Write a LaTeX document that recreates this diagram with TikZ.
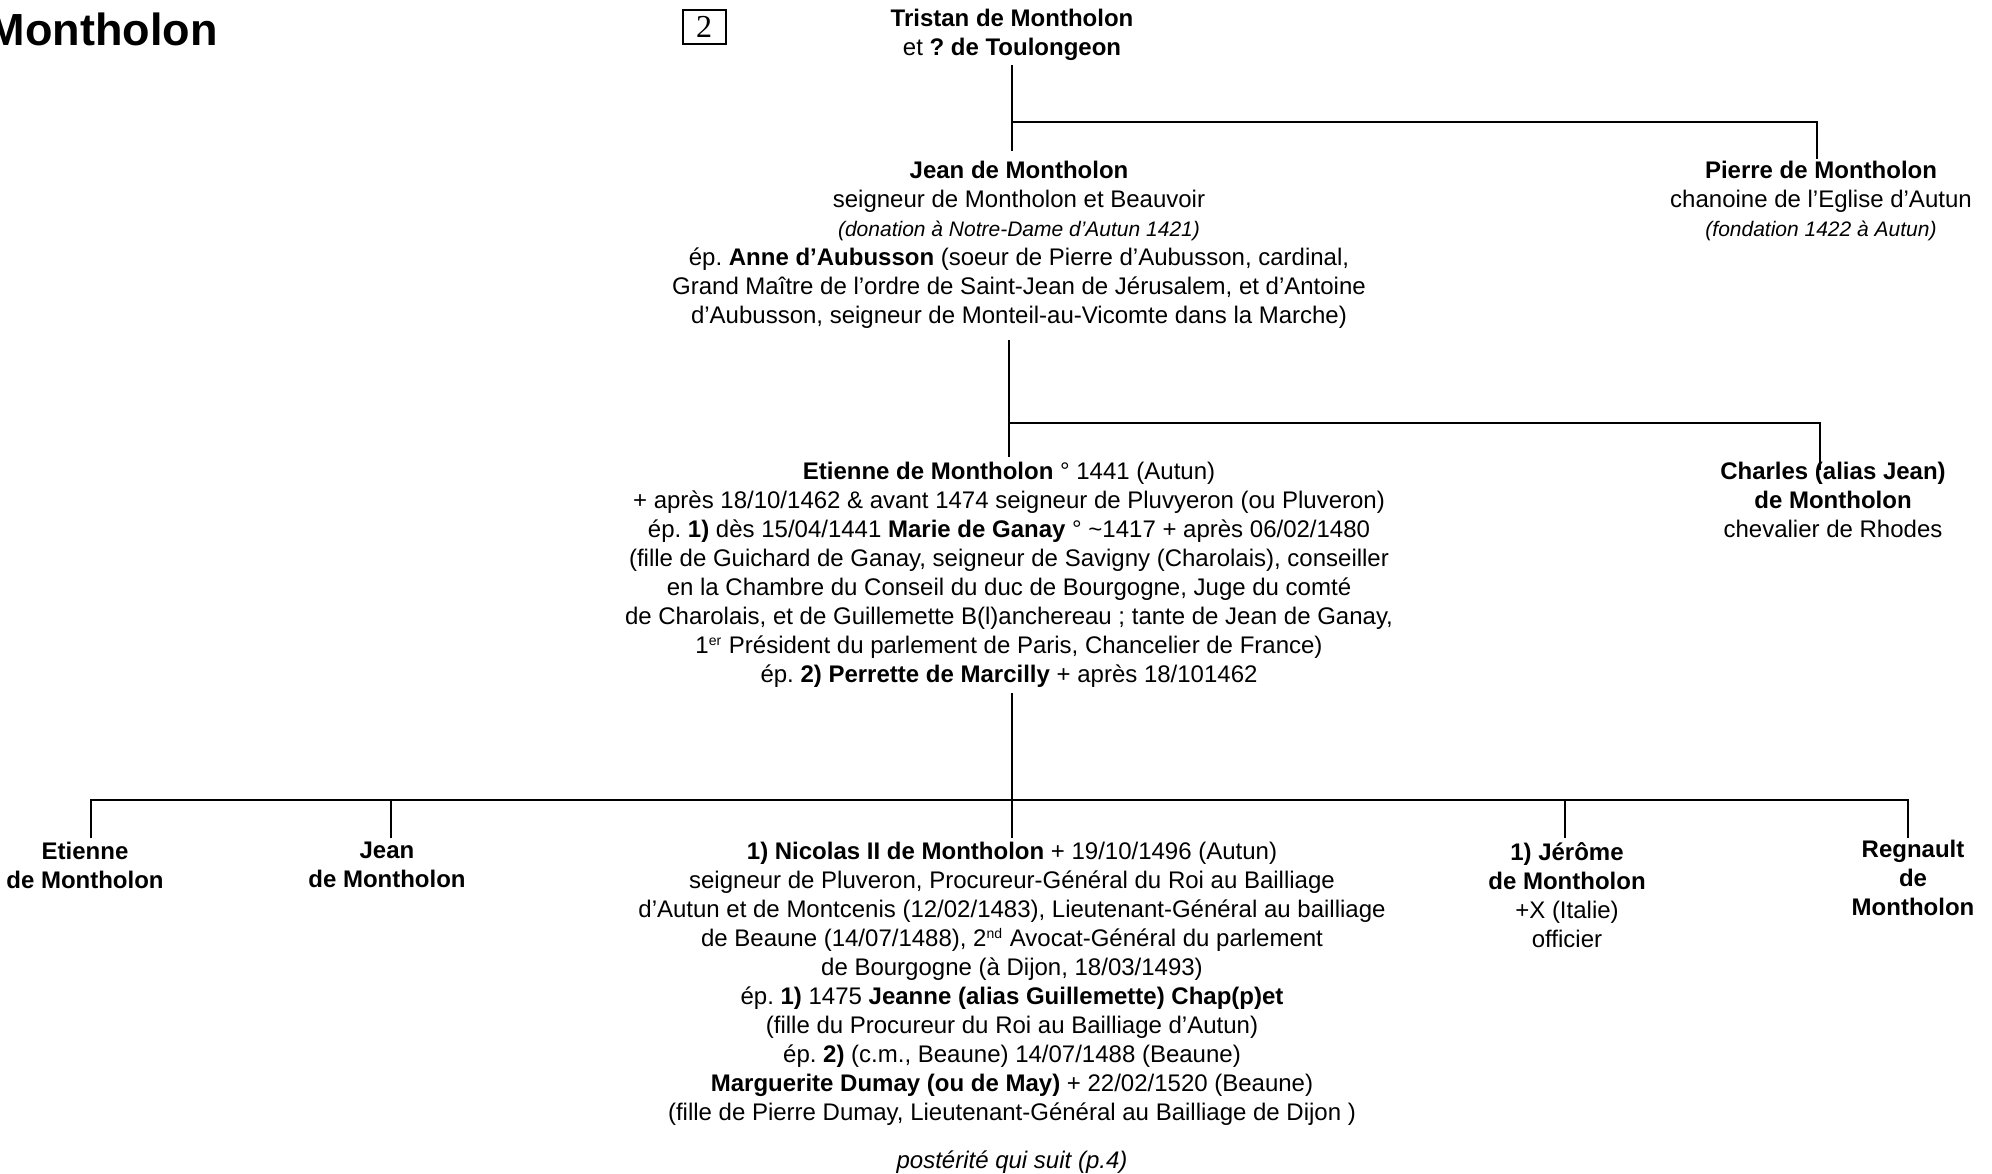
\documentclass[tikz,border=0pt]{standalone}
\usepackage{fontspec}
\setmainfont{Liberation Sans}
\newfontfamily\boxfont{Liberation Serif}
\usetikzlibrary{calc}
\frenchspacing
\tikzset{
  person/.style={anchor=north, align=center, inner sep=0pt, font=\fontsize{12pt}{14.5pt}\selectfont},
  link/.style={line width=1.3pt},
  numbox/.style={draw, line width=1pt, inner sep=0pt, minimum width=21.5pt, minimum height=17pt, font=\boxfont\fontsize{16pt}{17pt}\selectfont},
}
\newcommand\noteit[1]{{\fontsize{10.5pt}{14.5pt}\selectfont\itshape #1}}
\begin{document}
\frenchspacing
\begin{tikzpicture}[x=0.5pt,y=-0.5pt]
\fill[white] (0,0) rectangle (1992,1173);
\useasboundingbox (0,0) rectangle (1992,1173);

% title and page number
\node[anchor=base east, inner sep=0pt, font=\fontsize{22.5pt}{26pt}\selectfont\bfseries] (title) at (218,45) {Montholon};
\node[numbox] (num) at (704,27) {2};

% generation 1
\node[person] (Tr) at (1012,9) {\textbf{Tristan de Montholon}\\ et \textbf{? de Toulongeon}};

% generation 2
\node[person] (J) at (1019,161) {\textbf{Jean de Montholon}\\
  seigneur de Montholon et Beauvoir\\
  \noteit{(donation à Notre-Dame d’Autun 1421)}\\
  ép. \textbf{Anne d’Aubusson} (soeur de Pierre d’Aubusson, cardinal,\\
  Grand Maître de l’ordre de Saint-Jean de Jérusalem, et d’Antoine\\
  d’Aubusson, seigneur de Monteil-au-Vicomte dans la Marche)};
\node[person] (P) at (1821,161) {\textbf{Pierre de Montholon}\\
  chanoine de l’Eglise d’Autun\\
  \noteit{(fondation 1422 à Autun)}};

% generation 3
\node[person] (E) at (1009,462) {\textbf{Etienne de Montholon} ° 1441 (Autun)\\
  + après 18/10/1462 \& avant 1474 seigneur de Pluvyeron (ou Pluveron)\\
  ép. \textbf{1)} dès 15/04/1441 \textbf{Marie de Ganay} ° \textasciitilde1417 + après 06/02/1480\\
  (fille de Guichard de Ganay, seigneur de Savigny (Charolais), conseiller\\
  en la Chambre du Conseil du duc de Bourgogne, Juge du comté\\
  de Charolais, et de Guillemette B(l)anchereau ; tante de Jean de Ganay,\\
  1\textsuperscript{\fontsize{7pt}{8pt}\selectfont er} Président du parlement de Paris, Chancelier de France)\\
  ép. \textbf{2) Perrette de Marcilly} + après 18/101462};
\node[person] (C) at (1833,462) {\textbf{Charles (alias Jean)}\\
  \textbf{de Montholon}\\
  chevalier de Rhodes};

% generation 4
\node[person] (bE) at (85,842) {\textbf{Etienne}\\ \textbf{de Montholon}};
\node[person] (bJ) at (387,842) {\textbf{Jean}\\ \textbf{de Montholon}};
\node[person] (bN) at (1012,842) {\textbf{1) Nicolas II de Montholon} + 19/10/1496 (Autun)\\
  seigneur de Pluveron, Procureur-Général du Roi au Bailliage\\
  d’Autun et de Montcenis (12/02/1483), Lieutenant-Général au bailliage\\
  de Beaune (14/07/1488), 2\textsuperscript{\fontsize{7pt}{8pt}\selectfont nd} Avocat-Général du parlement\\
  de Bourgogne (à Dijon, 18/03/1493)\\
  ép. \textbf{1)} 1475 \textbf{Jeanne (alias Guillemette) Chap(p)et}\\
  (fille du Procureur du Roi au Bailliage d’Autun)\\
  ép. \textbf{2)} (c.m., Beaune) 14/07/1488 (Beaune)\\
  \textbf{Marguerite Dumay (ou de May)} + 22/02/1520 (Beaune)\\
  (fille de Pierre Dumay, Lieutenant-Général au Bailliage de Dijon )};
\node[person] (bI) at (1567,842) {\textbf{1) Jérôme}\\ \textbf{de Montholon}\\ +X (Italie)\\ officier};
\node[person] (bR) at (1913,840) {\textbf{Regnault}\\ \textbf{de}\\ \textbf{Montholon}};
\node[anchor=base, inner sep=0pt, font=\fontsize{12pt}{14.5pt}\selectfont\itshape] (post) at (1012,1168) {postérité qui suit (p.4)};

% connectors
\coordinate (bus1) at (0,122);
\coordinate (bus2) at (0,423);
\coordinate (bus3) at (0,800);

\draw[link, shorten <=2pt, shorten >=5pt] (Tr.south) -- (Tr.south |- J.north);
\draw[link, shorten >=1pt] (Tr.south |- bus1) -| ([xshift=-2pt]P.north);

\draw[link, shorten <=5.5pt, shorten >=2.5pt] (E.north |- J.south) -- (E.north);
\draw[link] (E.north |- bus2) -| ([xshift=-6.5pt,yshift=-4pt]C.north);

\draw[link, shorten <=2.5pt, shorten >=2pt] (bN.north |- E.south) -- (bN.north);
\coordinate (dE) at ([xshift=3pt,yshift=2pt]bE.north);
\coordinate (dJ) at ([xshift=2pt,yshift=2pt]bJ.north);
\coordinate (dI) at ([xshift=-1pt,yshift=2pt]bI.north);
\coordinate (dR) at ([xshift=-2.5pt,yshift=1pt]bR.north);
\draw[link] (dE) -- (dE |- bus3) -- (dR |- bus3) -- (dR);
\draw[link] (dJ |- bus3) -- (dJ);
\draw[link] (dI |- bus3) -- (dI);
\end{tikzpicture}
\end{document}
